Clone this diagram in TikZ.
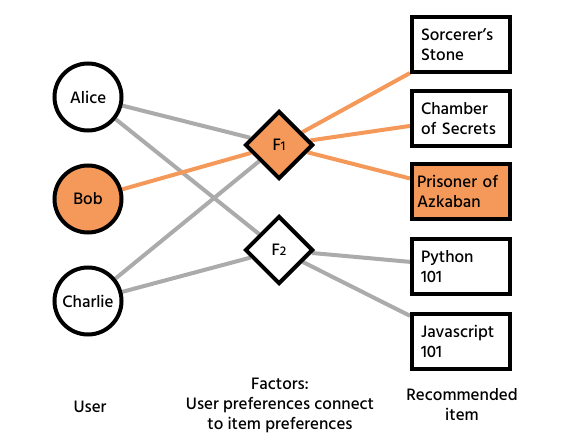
\documentclass[tikz,border=0pt]{standalone}
\usepackage{fontspec}
\setmainfont{Hind Madurai Medium}
\usetikzlibrary{shapes.geometric,backgrounds}
\definecolor{prefOrange}{HTML}{F5995A}
\definecolor{linkGray}{HTML}{ABABAB}
\tikzset{
  every node/.style={font=\fontsize{17}{20}\selectfont},
  user/.style={circle, draw, line width=4pt, minimum size=67pt, inner sep=0pt, fill=white},
  factor/.style={diamond, draw, line width=4pt, minimum size=68pt, inner sep=0pt, fill=white},
  item/.style={rectangle, draw, line width=4pt, minimum height=55pt, text width=80pt,
    inner xsep=9pt, inner ysep=0pt, align=left, fill=white},
  grayLink/.style={linkGray, line width=4pt},
  orangeLink/.style={prefOrange, line width=4pt}
}
\begin{document}
\begin{tikzpicture}[x=1pt, y=-1pt]
    \useasboundingbox (0, 0) rectangle (564, 446);

    \node[user] (alice) at (88, 97) {Alice};
    \node[user, fill=prefOrange] (bob) at (88, 199) {Bob};
    \node[user] (charlie) at (88, 301) {Charlie};

    \node[factor, fill=prefOrange] (f1) at (279, 145) {F{\fontsize{13}{13}\selectfont 1}};
    \node[factor] (f2) at (279, 250) {F{\fontsize{13}{13}\selectfont 2}};

    \node[item] (stone) at (461, 45) {Sorcerer's\\Stone};
    \node[item] (chamber) at (461, 118.5) {Chamber\\of Secrets};
    \node[item, fill=prefOrange, text width=88pt, inner xsep=5pt] (prisoner) at (461, 191.5) {Prisoner of\\Azkaban};
    \node[item] (python) at (461, 266.5) {Python\\101};
    \node[item] (javascript) at (461, 341.5) {Javascript\\101};

    \begin{scope}[on background layer]
      \draw[grayLink] (alice) -- (f1);
      \draw[grayLink] (alice) -- (f2);
      \draw[orangeLink] (bob) -- (f1);
      \draw[grayLink] (charlie) -- (f1);
      \draw[grayLink] (charlie) -- (f2);
      \draw[orangeLink] (f1) -- (stone);
      \draw[orangeLink] (f1) -- (chamber);
      \draw[orangeLink] (f1) -- (prisoner);
      \draw[grayLink] (f2) -- (python);
      \draw[grayLink] (f2) -- (javascript);
    \end{scope}

    \node[align=center] (userLabel) at (90, 407) {User};
    \node[align=center] (factorLabel) at (280, 405) {Factors:\\User preferences connect\\to item preferences};
    \node[align=center] (itemLabel) at (462, 405) {Recommended\\item};
\end{tikzpicture}
\end{document}
